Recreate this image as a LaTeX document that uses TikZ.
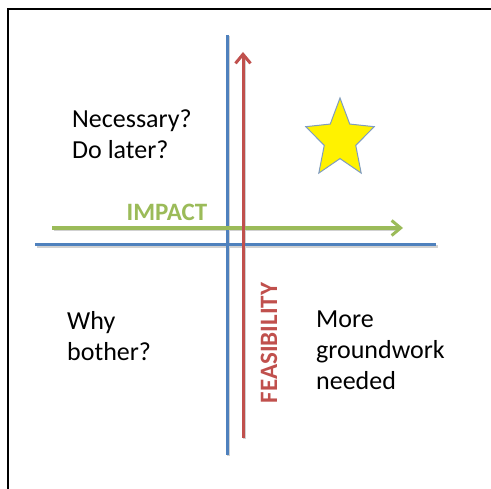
\documentclass[tikz,border=0pt]{standalone}
\usepackage{fontspec}
\setmainfont{Carlito}
\usetikzlibrary{arrows.meta}
\definecolor{axblue}{HTML}{4F81BD}
\definecolor{axred}{HTML}{C0504D}
\definecolor{axgreen}{HTML}{9BBB59}
\definecolor{starline}{HTML}{7F9CC0}
\begin{document}
\begin{tikzpicture}[x=1pt,y=-1pt,
  quadtext/.style={anchor=north west,inner sep=0pt,align=left,
    font=\fontsize{26}{31}\selectfont,text=black},
  axlabel/.style={inner sep=0pt,font=\fontsize{25}{30}\selectfont\bfseries},
  axline/.style={line width=3pt,axblue},
  shadowline/.style={line width=3pt,black!18},
  barb/.style={-{Straight Barb[length=9pt,width=15pt,line width=3pt]}}]
\useasboundingbox (0,0) rectangle (491,489);
% frame
\draw[line width=2pt,black] (8,489) -- (8,9) -- (491,9);
% coordinates
\coordinate (vtop) at (227,35);
\coordinate (vbot) at (227,455);
\coordinate (hl) at (35,245);
\coordinate (hr) at (436,245);
\coordinate (rbot) at (243,438);
\coordinate (rtop) at (243,52);
\coordinate (gl) at (52,228);
\coordinate (gr) at (403,228);
% shadows
\draw[shadowline] ([shift={(1.5,1.5)}]vtop) -- ([shift={(1.5,1.5)}]vbot);
\draw[shadowline] ([shift={(1.5,1.5)}]hl) -- ([shift={(1.5,1.5)}]hr);
\draw[shadowline] ([shift={(1.5,1.5)}]gl) -- ([shift={(-6,1.5)}]gr);
\draw[shadowline] ([shift={(1.5,1.5)}]rbot) -- ([shift={(1.5,6)}]rtop);
% axes
\draw[axline] (vtop) -- (vbot);
\draw[axline] (hl) -- (hr);
\draw[barb,line width=3.5pt,axgreen] (gl) -- (gr);
\draw[barb,line width=3pt,axred] (rbot) -- (rtop);
% labels
\node[axlabel,text=axgreen,anchor=base] (impact) at (167,221) {IMPACT};
\node[axlabel,text=axred,rotate=90,anchor=base] (feas) at (277,343) {FEASIBILITY};
% quadrant texts
\node[quadtext] (nec) at (72,110) {Necessary?\\Do later?};
\node[quadtext] (why) at (67,311) {Why\\bother?};
\node[quadtext] (more) at (316,311) {More\\groundwork\\needed};
% star
\begin{scope}[shift={(340,139.5)},x=36pt,y=41.5pt]
\draw[fill=yellow,draw=starline,line width=1pt,line join=miter]
  (90:1) -- (126:0.46) -- (162:1) -- (198:0.46) -- (234:1) -- (270:0.46)
  -- (306:1) -- (342:0.46) -- (18:1) -- (54:0.46) -- cycle;
\end{scope}
\end{tikzpicture}
\end{document}
